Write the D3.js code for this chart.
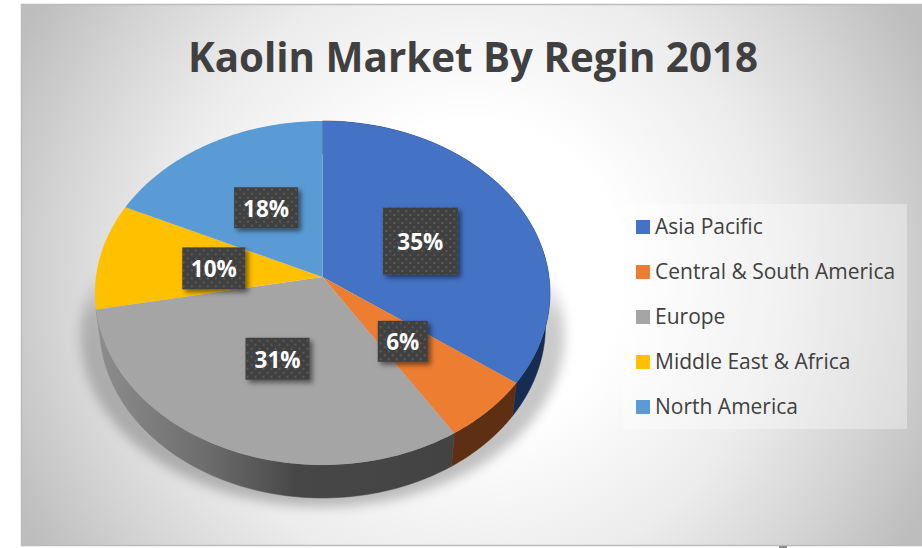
<!DOCTYPE html>
<html><head><meta charset="utf-8">
<script src="https://cdn.jsdelivr.net/npm/d3@7"></script>
<style>html,body{margin:0;padding:0;background:#fff;overflow:hidden}svg{display:block}</style>
</head><body><svg id="c" width="922" height="548"></svg>
<script>
const categories = ["Asia Pacific","Central & South America","Europe","Middle East & Africa","North America"];
const shares = [35,6,31,10,18];
const colors = ["#4472c4","#ed7d31","#a5a5a5","#ffc000","#5b9bd5"];
const wallColors = ["#172c52","#5e2f12","url(#wallGray)"];
const chartTitle = "Kaolin Market By Regin 2018";

const labelNudgeX = [-1,0,2,3,2];
const labelNudgeY = [2,0,0,2,0];
const labelBoxW = [75,50,64,63,64];
const labelBoxH = [67,41,42,42,41];

const W=922,H=548;
const svg=d3.select("#c");
const defs=svg.append("defs");

const bg=defs.append("radialGradient").attr("id","bg").attr("gradientUnits","userSpaceOnUse")
 .attr("cx",470).attr("cy",275).attr("r",510);
[[0,"#ffffff"],[.3,"#ffffff"],[.6,"#ececec"],[.8,"#d6d6d6"],[1,"#bdbdbd"]].forEach(s=>bg.append("stop").attr("offset",s[0]).attr("stop-color",s[1]));
const wg=defs.append("linearGradient").attr("id","wallGray").attr("gradientUnits","userSpaceOnUse").attr("x1",100).attr("x2",460).attr("y1",0).attr("y2",0);
[[0,"#8c8c8c"],[.3,"#6c6c6c"],[.55,"#474747"],[1,"#434343"]].forEach(s=>wg.append("stop").attr("offset",s[0]).attr("stop-color",s[1]));
const pat=defs.append("pattern").attr("id","dots").attr("patternUnits","userSpaceOnUse").attr("width",8).attr("height",8);
pat.append("rect").attr("width",8).attr("height",8).attr("fill","#404040");
pat.append("rect").attr("x",1).attr("y",1).attr("width",2).attr("height",2).attr("fill","#595959");
pat.append("rect").attr("x",5).attr("y",5).attr("width",2).attr("height",2).attr("fill","#595959");
const sh=defs.append("filter").attr("id","boxShadow").attr("x","-30%").attr("y","-30%").attr("width","170%").attr("height","170%");
sh.append("feDropShadow").attr("dx",3).attr("dy",3).attr("stdDeviation",2.5).attr("flood-color","#000").attr("flood-opacity",.5);
const blur=defs.append("filter").attr("id","groundBlur").attr("x","-20%").attr("y","-20%").attr("width","140%").attr("height","140%");
blur.append("feGaussianBlur").attr("stdDeviation",6);
const gs=defs.append("linearGradient").attr("id","groundFade").attr("x1",0).attr("x2",0).attr("y1",0).attr("y2",1);
[[0,0],[.32,0],[.45,.2],[.85,.24],[1,.24]].forEach(s=>gs.append("stop").attr("offset",s[0]).attr("stop-color","#000").attr("stop-opacity",s[1]));

svg.append("rect").attr("x",21.5).attr("y",4.5).attr("width",W).attr("height",541).attr("fill","url(#bg)").attr("stroke","#bcbcbc").attr("stroke-width",1.5);
svg.append("rect").attr("x",779).attr("y",546).attr("width",8).attr("height",2).attr("fill","#8a8a8a");

svg.append("text").attr("x",473).attr("y",72).attr("text-anchor","middle")
 .attr("font-family","'Open Sans'").attr("font-weight",700).attr("font-size",40.3).attr("fill","#404040").text(chartTitle);

// perspective projection of the tilted pie disc
const cx=322.5,cy=277,R=226.5,K=170.5,P=0.093,depth=33,shrink=0.98;
const project=(a,r=1)=>{const u=Math.sin(a)*r,v=-Math.cos(a)*r,f=1/(1-P*v);return [cx+R*u*f,cy+K*v*f];};
const lower=p=>[cx+(p[0]-cx)*shrink,p[1]+depth];
const rim=(a0,a1)=>d3.range(0,61).map(i=>project(a0+(a1-a0)*i/60));
const line=d3.line();
const arcs=d3.pie().sort(null).value(d=>d)(shares);

// ground shadow
const full=rim(0,2*Math.PI);
const gp=full.map(p=>[cx+(p[0]-cx)*1.065,p[1]+42]);
svg.append("path").attr("d",line(gp)+"Z").attr("fill","url(#groundFade)").attr("filter","url(#groundBlur)");

// side walls (only the near slices show one)
svg.append("g").selectAll("path").data(arcs.slice(0,wallColors.length)).join("path")
 .attr("d",d=>{const t=rim(d.startAngle,d.endAngle);return line(t.concat(t.map(lower).reverse()))+"Z";})
 .attr("fill",(d,i)=>wallColors[i]).attr("stroke",(d,i)=>wallColors[i]).attr("stroke-width",.5);

// top faces
svg.append("g").selectAll("path").data(arcs).join("path")
 .attr("d",d=>line([[cx,cy]].concat(rim(d.startAngle,d.endAngle)))+"Z")
 .attr("fill",(d,i)=>colors[i]);

// data labels
const lab=svg.append("g").selectAll("g").data(arcs).join("g")
 .attr("transform",(d,i)=>{const p=project((d.startAngle+d.endAngle)/2,.5);return `translate(${p[0]+labelNudgeX[i]},${p[1]+labelNudgeY[i]})`;});
lab.append("rect").attr("x",(d,i)=>-labelBoxW[i]/2).attr("y",(d,i)=>-labelBoxH[i]/2)
 .attr("width",(d,i)=>labelBoxW[i]).attr("height",(d,i)=>labelBoxH[i]).attr("fill","url(#dots)").attr("filter","url(#boxShadow)");
lab.append("text").attr("text-anchor","middle").attr("y",9).attr("font-family","'Open Sans'").attr("font-weight",700)
 .attr("font-size",22.5).attr("fill","#fff").text(d=>d.value+"%");

// legend
const legY=d3.scalePoint().domain(categories).range([227,407]);
svg.append("rect").attr("x",623).attr("y",204).attr("width",284).attr("height",225).attr("fill","#fff").attr("fill-opacity",.35);
const lg=svg.append("g").selectAll("g").data(categories).join("g").attr("transform",d=>`translate(0,${legY(d)})`);
lg.append("rect").attr("x",636).attr("y",-7).attr("width",14).attr("height",14).attr("fill",(d,i)=>colors[i]);
lg.append("text").attr("x",655).attr("y",7).attr("font-family","'Open Sans'").attr("font-size",21).attr("fill","#404040").text(d=>d);
</script></body></html>
